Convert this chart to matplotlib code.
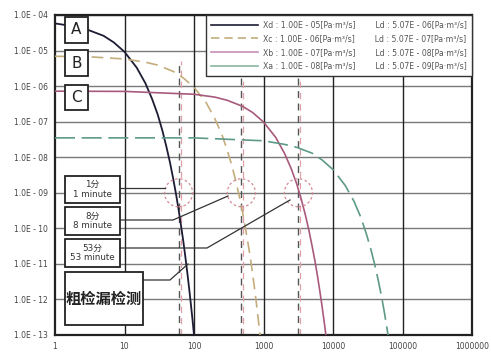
import matplotlib
matplotlib.use("Agg")
import matplotlib.pyplot as plt
from matplotlib.patches import Rectangle, Circle
from matplotlib.lines import Line2D
import matplotlib.transforms as mtrans

plt.rcParams["font.family"] = ["DejaVu Sans", "Noto Sans CJK SC"]

# pressure-rise curves: time [s] vs leak value
xd_t = [1, 2, 3, 5, 7, 10, 15, 20, 25, 30, 35, 40, 45, 50, 55, 60, 65, 70, 75, 80, 85, 90, 95, 100]
xd_p = [5.8e-5, 4.7e-5, 3.8e-5, 2.6e-5, 1.7e-5, 9.2e-6, 3.3e-6, 1.2e-6, 4.3e-7, 1.6e-7,
        5.7e-8, 2.0e-8, 7.3e-9, 2.6e-9, 9.4e-10, 3.4e-10, 1.2e-10, 4.5e-11, 1.6e-11,
        5.8e-12, 2.1e-12, 7.6e-13, 2.8e-13, 1.0e-13]

xc_t = [1, 3, 10, 20, 30, 50, 70, 100, 150, 200, 250, 300, 350, 400, 450, 500, 550,
        600, 650, 700, 750, 800, 850, 890]
xc_p = [6.9e-6, 6.7e-6, 5.8e-6, 4.7e-6, 3.9e-6, 2.6e-6, 1.7e-6, 9.3e-7, 3.4e-7, 1.2e-7,
        4.5e-8, 1.6e-8, 5.9e-9, 2.1e-9, 7.8e-10, 2.8e-10, 1.0e-10, 3.7e-11, 1.4e-11,
        4.9e-12, 1.8e-12, 6.4e-13, 2.3e-13, 1.0e-13]

xb_t = [1, 10, 100, 200, 300, 500, 700, 1000, 1500, 2000, 2500, 3000, 3500, 4000, 4500,
        5000, 5500, 6000, 6500, 7000, 7500, 7900]
xb_p = [7.2e-7, 7.1e-7, 5.9e-7, 4.9e-7, 4.0e-7, 2.7e-7, 1.8e-7, 9.8e-8, 3.6e-8, 1.3e-8,
        4.8e-9, 1.8e-9, 6.5e-10, 2.4e-10, 8.8e-11, 3.2e-11, 1.2e-11, 4.4e-12, 1.6e-12,
        5.9e-13, 2.2e-13, 1.0e-13]

xa_t = [1, 100, 1000, 2000, 3000, 5000, 7000, 10000, 15000, 20000, 25000, 30000, 35000,
        40000, 45000, 50000, 55000, 62000]
xa_p = [3.5e-8, 3.5e-8, 2.9e-8, 2.3e-8, 1.9e-8, 1.3e-8, 8.3e-9, 4.5e-9, 1.6e-9, 5.8e-10,
        2.1e-10, 7.3e-11, 2.6e-11, 9.3e-12, 3.3e-12, 1.2e-12, 4.2e-13, 1.0e-13]

legend_labels = [
    "Xd : 1.00E - 05[Pa\u00b7m\u00b3/s]        Ld : 5.07E - 06[Pa\u00b7m\u00b3/s]",
    "Xc : 1.00E - 06[Pa\u00b7m\u00b3/s]        Ld : 5.07E - 07[Pa\u00b7m\u00b3/s]",
    "Xb : 1.00E - 07[Pa\u00b7m\u00b3/s]        Ld : 5.07E - 08[Pa\u00b7m\u00b3/s]",
    "Xa : 1.00E - 08[Pa\u00b7m\u00b3/s]        Ld : 5.07E - 09[Pa\u00b7m\u00b3/s]",
]

check_times = [60, 480, 3180]
check_level = 1e-9
box_labels = ["1\u5206\n1 minute", "8\u5206\n8 minute", "53\u5206\n53 minute"]
curve_tags = ["A", "B", "C"]

x_ticks = [1, 10, 100, 1000, 10000, 100000, 1000000]
y_exps = [-4, -5, -6, -7, -8, -9, -10, -11, -12, -13]

W, H = 491, 353
L, R, T, B = 55, 472, 15, 335


def ax_xy(px, py):
    # picture pixel -> axes fraction
    return (px - L) / (R - L), (B - py) / (B - T)


fig = plt.figure(figsize=(W / 100, H / 100), dpi=100)
ax = fig.add_axes([L / W, 1 - B / H, (R - L) / W, (B - T) / H])
ax.set_xscale("log")
ax.set_yscale("log")
ax.set_xlim(1, 1e6)
ax.set_ylim(1e-13, 1e-4)

for e in y_exps:
    ax.axhline(10.0 ** e, color="#7a7a7a", lw=1.0, zorder=1)
for xt in x_ticks[1:-1]:
    ax.axvline(xt, color="#222222", lw=1.0, zorder=1)

ax.set_xticks(x_ticks)
ax.set_xticklabels([str(v) for v in x_ticks])
ax.set_yticks([10.0 ** e for e in y_exps])
ax.set_yticklabels(["1.0E - %02d" % -e for e in y_exps])
ax.minorticks_off()
ax.tick_params(length=0, labelsize=5.5, labelcolor="#444444", pad=5)
for s in ax.spines.values():
    s.set_linewidth(1.6)
    s.set_color("#222222")

c_d, c_c, c_b, c_a = "#1c1c34", "#c4ad7c", "#a85a7c", "#5e9a88"
ax.plot(xd_t, xd_p, color=c_d, lw=1.3, zorder=3)
ax.plot(xc_t, xc_p, color=c_c, lw=1.2, ls=(0, (7, 4)), zorder=3)
ax.plot(xb_t, xb_p, color=c_b, lw=1.2, zorder=3)
ax.plot(xa_t, xa_p, color=c_a, lw=1.2, ls=(0, (12, 4)), zorder=3)

# check-time markers
for tc in check_times:
    ax.plot([tc, tc], [1e-13, 5e-6], color="#555555", lw=1.0, ls=(0, (5, 4)), zorder=2)
    ax.plot([tc * 1.07, tc * 1.07], [1e-13, 5e-6], color="#e0a0a8", lw=0.9,
            ls=(0, (5, 4)), zorder=2)
    tr = fig.dpi_scale_trans + mtrans.ScaledTranslation(tc, check_level, ax.transData)
    ax.add_patch(Circle((0, 0), 0.14, transform=tr, fill=False, ec="#d08890",
                        lw=0.9, ls=(0, (2, 2)), zorder=4))

# curve tags A/B/C
tag_rows = [(17, 43), (50, 76), (85, 110)]
for tag, (y0, y1) in zip(curve_tags, tag_rows):
    x0, yb = ax_xy(65, y1)
    x1, yt = ax_xy(88, y0)
    ax.add_patch(Rectangle((x0, yb), x1 - x0, yt - yb, transform=ax.transAxes,
                           fc="white", ec="#222222", lw=1.3, zorder=5))
    ax.text((x0 + x1) / 2, (yb + yt) / 2, tag, transform=ax.transAxes, ha="center",
            va="center", fontsize=11, color="#222222", zorder=6)

# time boxes with leader lines
time_rows = [(176, 203), (207, 235), (239, 267)]
leaders = [
    [(120, 188), (165, 188)],
    [(120, 220), (173, 220), (228, 196)],
    [(120, 248), (207, 248), (290, 200)],
]
for lab, (y0, y1), pts in zip(box_labels, time_rows, leaders):
    x0, yb = ax_xy(65, y1)
    x1, yt = ax_xy(120, y0)
    ax.add_patch(Rectangle((x0, yb), x1 - x0, yt - yb, transform=ax.transAxes,
                           fc="white", ec="#222222", lw=1.3, zorder=5))
    ax.text((x0 + x1) / 2, (yb + yt) / 2, lab, transform=ax.transAxes, ha="center",
            va="center", fontsize=6.3, color="#333333", linespacing=1.1, zorder=6)
    xs, ys = zip(*[ax_xy(px, py) for px, py in pts])
    ax.add_line(Line2D(xs, ys, transform=ax.transAxes, color="#333333", lw=0.9, zorder=4))

x0, yb = ax_xy(65, 325)
x1, yt = ax_xy(143, 272)
ax.add_patch(Rectangle((x0, yb), x1 - x0, yt - yb, transform=ax.transAxes,
                       fc="white", ec="#222222", lw=1.3, zorder=5))
ax.text((x0 + x1) / 2, (yb + yt) / 2, "\u7c97\u68c0\u6f0f\u68c0\u6d4b", transform=ax.transAxes,
        ha="center", va="center", fontsize=11, fontweight="bold", color="#222222",
        family=["Noto Sans CJK SC"], zorder=6)
xs, ys = zip(*[ax_xy(px, py) for px, py in [(143, 280), (170, 280), (188, 264)]])
ax.add_line(Line2D(xs, ys, transform=ax.transAxes, color="#333333", lw=0.9, zorder=4))

handles = [
    Line2D([], [], color=c_d, lw=1.2),
    Line2D([], [], color=c_c, lw=1.2, ls=(0, (5, 3))),
    Line2D([], [], color="#c890b8", lw=1.2),
    Line2D([], [], color="#88b8a0", lw=1.2),
]
leg = ax.legend(handles, legend_labels, loc="upper right", bbox_to_anchor=(1.0, 1.0),
                borderaxespad=0.0, fontsize=5.6, handlelength=6.0, labelspacing=0.6,
                borderpad=0.7, handletextpad=0.6, fancybox=False, framealpha=1.0)
leg.get_frame().set_edgecolor("#333333")
leg.get_frame().set_linewidth(1.0)
for t in leg.get_texts():
    t.set_color("#555555")
leg.set_zorder(7)

fig.savefig("out.png", dpi=100)
